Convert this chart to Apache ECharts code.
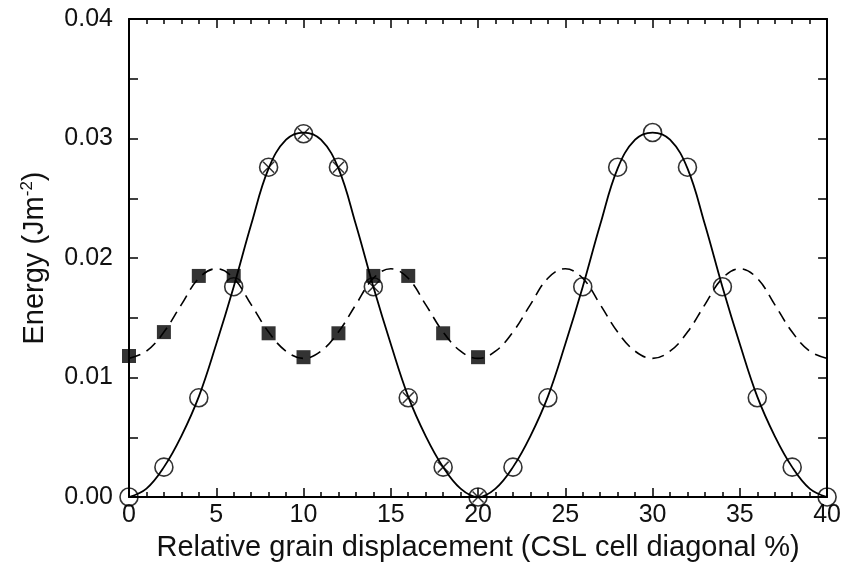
<!DOCTYPE html>
<html>
<head>
<meta charset="utf-8">
<script src="https://cdn.jsdelivr.net/npm/echarts@6/dist/echarts.min.js"></script>
<style>
  html, body { margin: 0; padding: 0; background: #fff; }
  #chart { width: 844px; height: 568px; }
</style>
</head>
<body>
<div id="chart"></div>
<script>
// fitted curves, every 1 % step
const curveX = [0,1,2,3,4,5,6,7,8,9,10,11,12,13,14,15,16,17,18,19,20,
  21,22,23,24,25,26,27,28,29,30,31,32,33,34,35,36,37,38,39,40];
const solidCurve = [0,0.0007,0.0025,0.0051,0.0084,0.0128,0.0176,0.0228,0.0275,0.0299,0.0305,
  0.0299,0.0275,0.0228,0.0176,0.0128,0.0084,0.0051,0.0025,0.0007,0,
  0.0007,0.0025,0.0051,0.0084,0.0128,0.0176,0.0228,0.0275,0.0299,0.0305,
  0.0299,0.0275,0.0228,0.0176,0.0128,0.0084,0.0051,0.0025,0.0007,0];
const dashedCurve = [0.0116,0.0122,0.0138,0.0161,0.0183,0.0191,0.0183,0.0161,0.0138,0.0122,0.0116,
  0.0122,0.0138,0.0161,0.0183,0.0191,0.0183,0.0161,0.0138,0.0122,0.0116,
  0.0122,0.0138,0.0161,0.0183,0.0191,0.0183,0.0161,0.0138,0.0122,0.0116,
  0.0122,0.0138,0.0161,0.0183,0.0191,0.0183,0.0161,0.0138,0.0122,0.0116];

// computed points
const circleX = [0,2,4,6,8,10,12,14,16,18,20,22,24,26,28,30,32,34,36,38,40];
const circleY = [0,0.0025,0.0083,0.0176,0.0276,0.0304,0.0276,0.0176,0.0083,0.0025,0,
  0.0025,0.0083,0.0176,0.0276,0.0305,0.0276,0.0176,0.0083,0.0025,0];
const crossX = [8,10,12,14,16,18,20];
const crossY = [0.0276,0.0304,0.0276,0.0176,0.0083,0.0025,0];
const squareX = [0,2,4,6,8,10,12,14,16,18,20];
const squareY = [0.0118,0.0138,0.0185,0.0185,0.0137,0.0117,0.0137,0.0185,0.0185,0.0137,0.0117];

const xTicks = [0,5,10,15,20,25,30,35,40];
const yTicks = [0,0.01,0.02,0.03,0.04];

const pairs = (xs, ys) => xs.map((x, i) => [x, ys[i]]);

const chart = echarts.init(document.getElementById('chart'));
const font = 'Liberation Sans, Arial, sans-serif';

const xBase = {
  type: 'value', min: 0, max: 40, interval: 5,
  axisLine: { show: true, onZero: false, lineStyle: { color: '#000', width: 2 } },
  axisTick: { show: true, inside: true, length: 9, lineStyle: { color: '#000', width: 1.5 } },
  minorTick: { show: true, splitNumber: 5, length: 5, lineStyle: { color: '#000', width: 1.5 } },
  splitLine: { show: false },
};
const yBase = {
  type: 'value', min: 0, max: 0.04, interval: 0.01,
  axisLine: { show: true, onZero: false, lineStyle: { color: '#000', width: 2 } },
  axisTick: { show: true, inside: true, length: 9, lineStyle: { color: '#000', width: 1.5 } },
  minorTick: { show: true, splitNumber: 2, length: 9, lineStyle: { color: '#000', width: 1.5 } },
  splitLine: { show: false },
};

const option = {
  backgroundColor: '#fff',
  animation: false,
  grid: { left: 129, right: 16, top: 19, bottom: 71 },
  xAxis: [
    Object.assign({}, xBase, {
      position: 'bottom',
      name: 'Relative grain displacement (CSL cell diagonal %)',
      nameLocation: 'middle', nameGap: 36,
      nameTextStyle: { color: '#111', fontSize: 29, fontFamily: font },
      axisLabel: {
        color: '#111', fontSize: 25, fontFamily: font, margin: 6,
        customValues: xTicks, formatter: v => String(v)
      },
    }),
    Object.assign({}, xBase, { position: 'top', axisLabel: { show: false } }),
  ],
  yAxis: [
    Object.assign({}, yBase, {
      position: 'left',
      name: '{a|Energy (Jm}{s|-2}{a|)}',
      nameLocation: 'middle', nameGap: 79, nameRotate: 90,
      nameTextStyle: {
        rich: {
          a: { color: '#111', fontSize: 29, fontFamily: font },
          s: { color: '#111', fontSize: 17, fontFamily: font, padding: [0, 0, 14, 0] },
        }
      },
      axisLabel: {
        color: '#111', fontSize: 25, fontFamily: font, margin: 16,
        customValues: yTicks, formatter: v => v.toFixed(2)
      },
    }),
    Object.assign({}, yBase, { position: 'right', axisLabel: { show: false } }),
  ],
  series: [
    {
      type: 'line', data: pairs(curveX, solidCurve), smooth: 0.4,
      showSymbol: false, lineStyle: { color: '#000', width: 1.8 }, z: 2,
    },
    {
      type: 'line', data: pairs(curveX, dashedCurve), smooth: 0.4,
      showSymbol: false, lineStyle: { color: '#000', width: 1.6, type: [12, 7] }, z: 2,
    },
    {
      type: 'scatter', data: pairs(circleX, circleY), symbol: 'circle', symbolSize: 18,
      itemStyle: { color: 'rgba(0,0,0,0)', borderColor: '#000', borderWidth: 1.6 }, z: 3,
    },
    {
      type: 'scatter', data: pairs(crossX, crossY),
      symbol: 'path://M0,0L10,10M10,0L0,10', symbolSize: 11,
      itemStyle: { color: 'rgba(0,0,0,0)', borderColor: '#000', borderWidth: 1.5 }, z: 3,
    },
    {
      type: 'scatter', data: pairs(squareX, squareY), symbol: 'rect', symbolSize: 14,
      itemStyle: { color: '#000' }, z: 4,
    },
  ],
};

chart.setOption(option);
</script>
</body>
</html>
